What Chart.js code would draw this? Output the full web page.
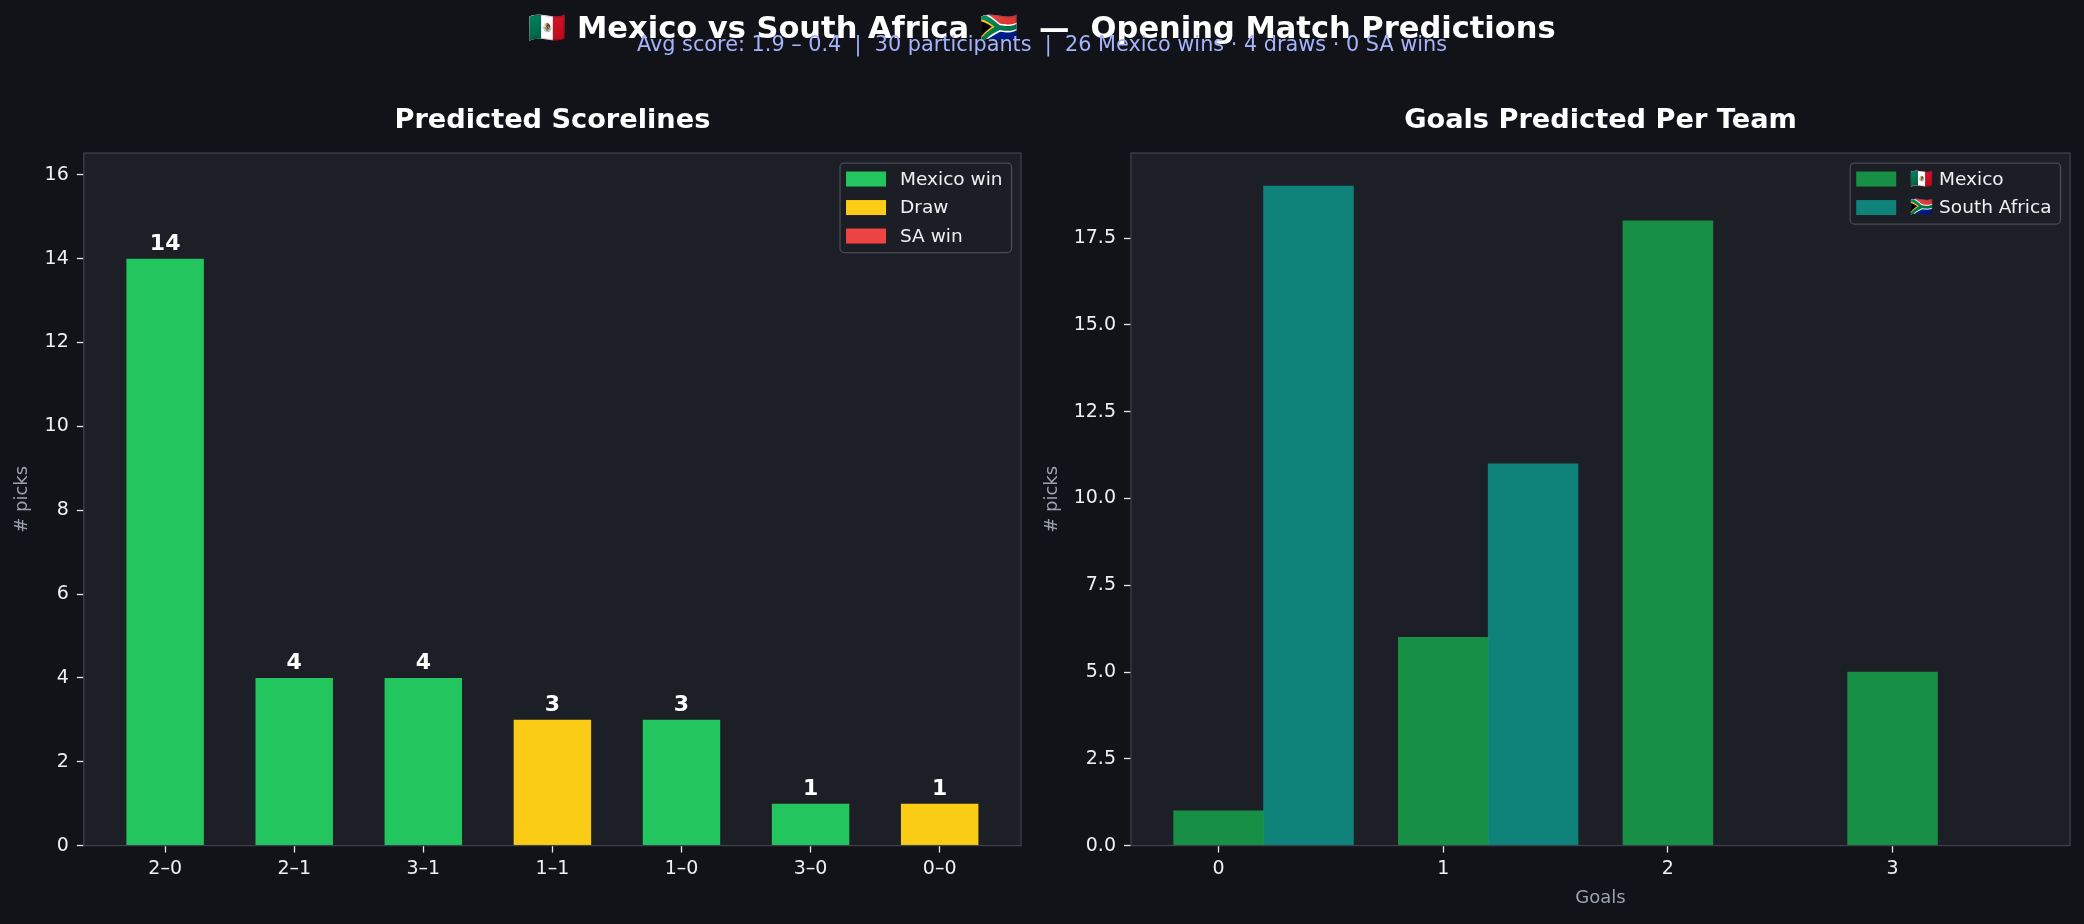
<!DOCTYPE html>
<html>
<head>
<meta charset="utf-8">
<script src="https://cdn.jsdelivr.net/npm/chart.js@4/dist/chart.umd.min.js"></script>
<style>
  html, body { margin: 0; padding: 0; background: #111318; }
  body { width: 2084px; height: 924px; position: relative; overflow: hidden; font-family: 'DejaVu Sans', sans-serif; }
  .panel { position: absolute; top: 0; width: 1042px; height: 924px; }
  #suptitle { position: absolute; left: 0; width: 2084px; top: 10px; text-align: center; color: #ffffff; font-weight: bold; font-size: 30.5px; line-height: 36px; white-space: pre; }
  #subtitle { position: absolute; left: 0; width: 2084px; top: 32px; text-align: center; color: #a5b4fc; font-size: 20.8px; line-height: 24px; white-space: pre; }
</style>
</head>
<body>
<div class="panel" style="left:0"><canvas id="scorelines"></canvas></div>
<div class="panel" style="left:1042px"><canvas id="goals"></canvas></div>
<div id="suptitle">🇲🇽 Mexico vs South Africa 🇿🇦  —  Opening Match Predictions</div>
<div id="subtitle">Avg score: 1.9 – 0.4  |  30 participants  |  26 Mexico wins · 4 draws · 0 SA wins</div>
<script>
// --- data ---
const scorelines = ['2–0', '2–1', '3–1', '1–1', '1–0', '3–0', '0–0'];
const picks = [14, 4, 4, 3, 3, 1, 1];
const outcomes = ['Mexico win', 'Mexico win', 'Mexico win', 'Draw', 'Mexico win', 'Mexico win', 'Draw'];
const outcomeNames = ['Mexico win', 'Draw', 'SA win'];
const outcomeColors = ['#22c55e', '#facc15', '#ef4444'];

const goalCounts = [0, 1, 2, 3];
const mexicoGoals = [1, 6, 18, 5];
const saGoals = [19, 11, 0, 0];
const teamNames = ['🇲🇽 Mexico', '🇿🇦 South Africa'];
const teamColors = ['rgba(22,163,74,0.85)', 'rgba(13,148,136,0.85)'];
const barOffset = 0.4;

Chart.defaults.font.family = "'DejaVu Sans', sans-serif";
Chart.defaults.font.size = 18;
Chart.defaults.color = '#f0f0f0';

const TEXT = '#f0f0f0';
const MUTED = '#9ca3af';
const PLOT_BG = '#1c1f26';
const FRAME = '#3d4049';
const TICK_SIZE = 19;

// plot background + frame around the axes
const frame = {
  id: 'frame',
  beforeDraw(chart) {
    const a = chart.chartArea, ctx = chart.ctx;
    ctx.save();
    ctx.fillStyle = PLOT_BG;
    ctx.fillRect(a.left, a.top, a.right - a.left, a.bottom - a.top);
    ctx.restore();
  },
  afterDatasetsDraw(chart) {
    const a = chart.chartArea, ctx = chart.ctx;
    ctx.save();
    ctx.strokeStyle = FRAME;
    ctx.lineWidth = 1.3;
    ctx.strokeRect(a.left, a.top, a.right - a.left, a.bottom - a.top);
    ctx.restore();
  }
};

// numbers over the bars
const valueLabels = {
  id: 'valueLabels',
  afterDatasetsDraw(chart, args, opts) {
    if (!opts.show) return;
    const ctx = chart.ctx;
    ctx.save();
    ctx.font = 'bold 22px "DejaVu Sans"';
    ctx.fillStyle = '#ffffff';
    ctx.textAlign = 'center';
    ctx.textBaseline = 'alphabetic';
    chart.data.datasets.forEach((ds, i) => {
      chart.getDatasetMeta(i).data.forEach((el, j) => {
        ctx.fillText(String(ds.data[j].y), el.x, el.y - 9);
      });
    });
    ctx.restore();
  }
};

// boxed legend in the upper right corner of the axes
const boxLegend = {
  id: 'boxLegend',
  afterDraw(chart) {
    const a = chart.chartArea, ctx = chart.ctx;
    const items = chart.data.datasets;
    ctx.save();
    ctx.font = '18.5px "DejaVu Sans"';
    const textW = Math.max(...items.map(d => ctx.measureText(d.label).width));
    const w = 6 + 40 + 14 + textW + 9;
    const rowH = 28.5;
    const h = 16 + rowH * (items.length - 1) + 16.5;
    const x0 = a.right - 9.5 - w;
    const y0 = a.top + 10;
    ctx.beginPath();
    ctx.roundRect(x0, y0, w, h, 4);
    ctx.fillStyle = 'rgba(28,31,38,0.85)';
    ctx.fill();
    ctx.strokeStyle = '#474b54';
    ctx.lineWidth = 1.3;
    ctx.stroke();
    ctx.textBaseline = 'middle';
    ctx.textAlign = 'left';
    items.forEach((d, i) => {
      const cy = y0 + 16 + i * rowH;
      ctx.fillStyle = d.backgroundColor;
      ctx.fillRect(x0 + 6, cy - 7.5, 40, 15);
      ctx.fillStyle = TEXT;
      ctx.fillText(d.label, x0 + 60, cy + 1);
    });
    ctx.restore();
  }
};

function axisTitle(text, pad) {
  return { display: true, text: text, color: MUTED, font: { size: 18 }, padding: pad };
}

function tickGrid() {
  return { display: true, offset: false, drawOnChartArea: false, drawTicks: true, tickLength: 7, tickColor: '#e5e7eb', tickWidth: 1.3 };
}

function panelTitle(text) {
  return {
    display: true, text: text, fullSize: false, color: '#ffffff',
    font: { size: 27.2, weight: 'bold' }, padding: { top: 104.7, bottom: 15.7 }
  };
}

// left: predicted scorelines, one dataset per outcome
const scoreDatasets = outcomeNames.map((name, k) => ({
  label: name,
  backgroundColor: outcomeColors[k],
  data: scorelines
    .map((s, i) => ({ x: i, y: picks[i], o: outcomes[i] }))
    .filter(p => p.o === name)
    .map(p => ({ x: p.x, y: p.y })),
  grouped: false,
  barPercentage: 0.6,
  categoryPercentage: 1
}));

new Chart(document.getElementById('scorelines'), {
  type: 'bar',
  data: { datasets: scoreDatasets },
  plugins: [frame, valueLabels, boxLegend],
  options: {
    responsive: true,
    maintainAspectRatio: false,
    animation: false,
    layout: { padding: { left: 0, right: 21, top: 0, bottom: 0 } },
    plugins: {
      legend: { display: false },
      tooltip: { enabled: false },
      title: panelTitle('Predicted Scorelines'),
      valueLabels: { show: true }
    },
    scales: {
      x: {
        type: 'linear', min: -0.63, max: 6.63, offset: false,
        grid: tickGrid(), border: { display: false },
        ticks: {
          stepSize: 1, includeBounds: false, autoSkip: false, maxRotation: 0, padding: 5, color: TEXT,
          font: { size: TICK_SIZE },
          callback: v => scorelines[v] ?? ''
        },
        afterFit: s => { s.height = 78.4; }
      },
      y: {
        min: 0, max: 16.52,
        grid: tickGrid(), border: { display: false },
        ticks: { stepSize: 2, includeBounds: false, padding: 8, color: TEXT, font: { size: TICK_SIZE } },
        title: axisTitle('# picks', { top: 12, bottom: 0 }),
        afterFit: s => { s.width = 83.8; }
      }
    }
  }
});

// right: goals predicted per team
const goalDatasets = [
  {
    label: teamNames[0],
    backgroundColor: teamColors[0],
    data: goalCounts.map((g, i) => ({ x: g, y: mexicoGoals[i] }))
  },
  {
    label: teamNames[1],
    backgroundColor: teamColors[1],
    data: goalCounts.map((g, i) => ({ x: g + barOffset, y: saGoals[i] }))
  }
].map(d => Object.assign(d, { grouped: false, barPercentage: 1, categoryPercentage: 1 }));

new Chart(document.getElementById('goals'), {
  type: 'bar',
  data: { datasets: goalDatasets },
  plugins: [frame, boxLegend],
  options: {
    responsive: true,
    maintainAspectRatio: false,
    animation: false,
    layout: { padding: { left: 0, right: 14, top: 0, bottom: 0 } },
    plugins: {
      legend: { display: false },
      tooltip: { enabled: false },
      title: panelTitle('Goals Predicted Per Team')
    },
    scales: {
      x: {
        type: 'linear', min: -0.39, max: 3.79, offset: false,
        grid: tickGrid(), border: { display: false },
        ticks: { stepSize: 1, includeBounds: false, autoSkip: false, maxRotation: 0, padding: 5, color: TEXT, font: { size: TICK_SIZE } },
        title: axisTitle('Goals', { top: 0, bottom: 14.5 }),
        afterFit: s => { s.height = 78.4; }
      },
      y: {
        min: 0, max: 19.95,
        grid: tickGrid(), border: { display: false },
        ticks: { stepSize: 2.5, includeBounds: false, padding: 8, color: TEXT, font: { size: TICK_SIZE }, callback: v => v.toFixed(1) },
        title: axisTitle('# picks', { top: 0, bottom: 0 }),
        afterFit: s => { s.width = 89; }
      }
    }
  }
});
</script>
</body>
</html>
